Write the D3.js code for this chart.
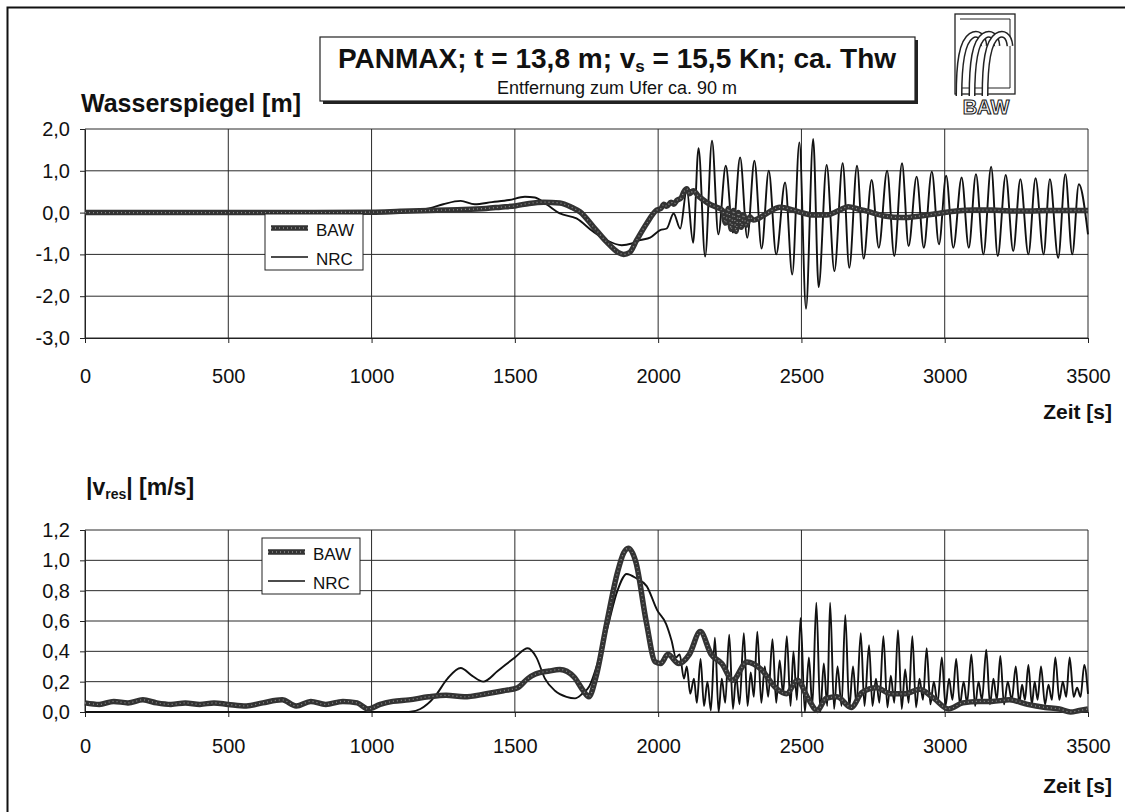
<!DOCTYPE html>
<html lang="de">
<head>
<meta charset="UTF-8">
<title>PANMAX - Wasserspiegel und vres</title>
<style>
  body { margin: 0; background: #fff; }
  svg { display: block; font-family: 'Liberation Sans', Arial, sans-serif; }
</style>
</head>
<body>
<svg width="1125" height="812"></svg>
<script src="https://d3js.org/d3.v7.min.js"></script>
<script>
// ---- data ----
const xTicks = [0, 500, 1000, 1500, 2000, 2500, 3000, 3500];
const wsTicks = [2, 1, 0, -1, -2, -3];
const vTicks = [0, 0.2, 0.4, 0.6, 0.8, 1.0, 1.2];

// Wasserspiegel [m], BAW
const wsBAW = [[0,0],[200,0],[400,0],[600,0],[800,0],[1000,0.01],[1100,0.03],[1200,0.05],[1300,0.07],[1400,0.1],[1450,0.13],[1500,0.16],[1550,0.22],[1600,0.25],[1657,0.23],[1700,0.12],[1727,0.02],[1774,-0.34],[1820,-0.7],[1860,-0.95],[1880,-1.0],[1900,-0.96],[1925,-0.66],[1960,-0.26],[1995,0.06],[2010,0.1],[2020,0.2],[2030,0.15],[2045,0.25],[2055,0.2],[2065,0.29],[2080,0.35],[2090,0.5],[2100,0.57],[2110,0.45],[2123,0.52],[2140,0.4],[2158,0.3],[2180,0.2],[2204,0.13],[2225,0.05],[2235,-0.25],[2245,0.1],[2255,-0.4],[2263,0.05],[2272,-0.45],[2280,0.0],[2290,-0.35],[2298,-0.05],[2308,-0.3],[2320,-0.1],[2332,-0.18],[2379,-0.02],[2425,0.13],[2472,0.06],[2500,0.0],[2542,-0.06],[2588,-0.06],[2630,0.05],[2663,0.14],[2700,0.08],[2725,0.04],[2790,-0.08],[2851,-0.12],[2915,-0.08],[2978,-0.02],[3040,0.04],[3100,0.06],[3165,0.06],[3230,0.04],[3292,0.04],[3360,0.05],[3430,0.05],[3500,0.05]];

// Wasserspiegel [m], NRC
const wsNRC = [[0,0],[500,0],[1000,0],[1100,0.03],[1200,0.1],[1250,0.2],[1311,0.28],[1360,0.2],[1420,0.25],[1480,0.3],[1535,0.38],[1570,0.36],[1610,0.2],[1657,-0.02],[1715,-0.14],[1774,-0.46],[1820,-0.66],[1873,-0.78],[1908,-0.74],[1937,-0.66],[1972,-0.6],[2007,-0.42],[2030,-0.38],[2054,-0.02],[2077,-0.38],[2100,0.55],[2122,-0.72],[2141,1.54],[2164,-1.05],[2188,1.72],[2210,-0.52],[2236,1.12],[2261,-0.48],[2286,1.32],[2311,-0.6],[2336,1.24],[2361,-0.86],[2386,1.0],[2412,-1.0],[2443,0.72],[2468,-1.48],[2493,1.68],[2516,-2.3],[2541,1.76],[2560,-1.78],[2588,1.14],[2615,-1.4],[2644,1.18],[2667,-1.32],[2694,1.12],[2717,-1.1],[2745,0.78],[2770,-0.84],[2799,1.0],[2824,-1.04],[2851,1.18],[2874,-0.8],[2902,0.86],[2927,-0.84],[2955,0.98],[2980,-0.76],[3005,0.88],[3030,-0.84],[3059,0.84],[3084,-0.84],[3109,0.92],[3135,-1.0],[3162,1.1],[3185,-1.04],[3213,0.9],[3239,-0.92],[3264,0.8],[3292,-1.0],[3317,0.82],[3345,-1.0],[3367,0.8],[3396,-1.08],[3421,0.92],[3445,-1.0],[3468,0.68],[3500,-0.52]];

// |v_res| [m/s], BAW
const vBAW = [[0,0.06],[50,0.05],[100,0.07],[150,0.06],[202,0.08],[250,0.06],[300,0.05],[350,0.06],[401,0.05],[450,0.06],[500,0.05],[563,0.04],[620,0.06],[688,0.08],[737,0.04],[788,0.07],[840,0.05],[900,0.07],[950,0.06],[987,0.02],[1030,0.05],[1074,0.07],[1130,0.08],[1199,0.1],[1260,0.11],[1323,0.1],[1400,0.12],[1460,0.14],[1510,0.16],[1545,0.22],[1572,0.25],[1620,0.27],[1657,0.28],[1707,0.23],[1739,0.14],[1758,0.1],[1783,0.23],[1821,0.59],[1858,0.92],[1880,1.05],[1896,1.08],[1922,0.99],[1959,0.59],[1990,0.33],[2009,0.32],[2034,0.38],[2072,0.32],[2109,0.38],[2147,0.53],[2185,0.38],[2222,0.32],[2260,0.21],[2310,0.33],[2360,0.28],[2410,0.16],[2448,0.12],[2486,0.21],[2523,0.09],[2555,0.01],[2586,0.09],[2624,0.1],[2674,0.03],[2712,0.13],[2762,0.16],[2812,0.12],[2862,0.12],[2912,0.15],[2962,0.09],[3013,0.02],[3063,0.06],[3120,0.07],[3164,0.07],[3226,0.08],[3289,0.05],[3351,0.03],[3400,0.02],[3439,0.0],[3470,0.01],[3500,0.02]];

// |v_res| [m/s], NRC
const vNRC = [[0,0],[500,0],[1000,0],[1130,0],[1170,0.02],[1220,0.1],[1265,0.22],[1311,0.29],[1350,0.24],[1390,0.2],[1440,0.27],[1500,0.36],[1545,0.42],[1575,0.36],[1605,0.22],[1640,0.14],[1680,0.1],[1710,0.09],[1735,0.12],[1760,0.17],[1790,0.33],[1821,0.54],[1858,0.8],[1890,0.91],[1925,0.88],[1960,0.83],[1997,0.67],[2028,0.58],[2047,0.47],[2062,0.36],[2075,0.38],[2090,0.22],[2100,0.3],[2112,0.12],[2125,0.22],[2135,0.06],[2148,0.35],[2160,0.04],[2172,0.2],[2184,0.01],[2198,0.49],[2211,0.0],[2222,0.22],[2234,0.06],[2248,0.51],[2261,0.02],[2272,0.24],[2284,0.05],[2299,0.52],[2312,0.04],[2323,0.26],[2334,0.1],[2346,0.53],[2360,0.06],[2372,0.3],[2384,0.1],[2399,0.48],[2412,0.06],[2424,0.34],[2436,0.12],[2449,0.5],[2462,0.04],[2472,0.4],[2484,0.08],[2497,0.62],[2512,0.0],[2526,0.36],[2538,0.04],[2552,0.72],[2566,0.0],[2578,0.32],[2590,0.04],[2600,0.72],[2614,0.02],[2626,0.3],[2640,0.04],[2653,0.64],[2667,0.03],[2680,0.3],[2692,0.05],[2707,0.52],[2720,0.04],[2736,0.44],[2748,0.04],[2760,0.22],[2772,0.06],[2786,0.5],[2800,0.03],[2812,0.24],[2824,0.06],[2837,0.54],[2850,0.02],[2862,0.28],[2874,0.06],[2887,0.5],[2900,0.03],[2912,0.22],[2924,0.08],[2937,0.42],[2950,0.05],[2962,0.2],[2975,0.06],[2990,0.36],[3003,0.04],[3015,0.22],[3027,0.08],[3040,0.35],[3053,0.05],[3066,0.2],[3078,0.06],[3093,0.38],[3106,0.04],[3118,0.2],[3130,0.08],[3145,0.41],[3158,0.05],[3170,0.22],[3182,0.08],[3194,0.37],[3207,0.05],[3220,0.2],[3234,0.08],[3248,0.3],[3260,0.06],[3270,0.18],[3280,0.08],[3292,0.31],[3304,0.05],[3314,0.2],[3324,0.08],[3336,0.3],[3350,0.05],[3362,0.18],[3374,0.08],[3386,0.36],[3400,0.08],[3412,0.2],[3424,0.1],[3436,0.36],[3450,0.1],[3462,0.16],[3474,0.1],[3487,0.31],[3500,0.12]];

const seriesNames = ["BAW", "NRC"];

// ---- drawing ----
const svg = d3.select("svg");
const de = d3.formatLocale({decimal: ",", thousands: ".", grouping: [3], currency: ["", " €"], minus: "-"});
const fmtY = de.format(".1f");

// scanned page frame
svg.append("path").attr("d", "M7.5,812 V7.5 H1125")
  .attr("fill", "none").attr("stroke", "#111").attr("stroke-width", 2);

// title box with shadow
svg.append("rect").attr("x", 323).attr("y", 40).attr("width", 595).attr("height", 64).attr("fill", "#222");
svg.append("rect").attr("x", 320).attr("y", 37).attr("width", 595).attr("height", 64)
  .attr("fill", "#fff").attr("stroke", "#222").attr("stroke-width", 1.2);
const title = svg.append("text").attr("x", 617).attr("y", 68).attr("text-anchor", "middle")
  .attr("font-size", 28).attr("font-weight", "bold").attr("fill", "#111");
title.append("tspan").text("PANMAX; t = 13,8 m; v");
title.append("tspan").attr("font-size", 17).attr("dy", 4).text("s");
title.append("tspan").attr("dy", -4).text(" = 15,5 Kn; ca. Thw");
svg.append("text").attr("x", 617).attr("y", 94).attr("text-anchor", "middle")
  .attr("font-size", 18).attr("fill", "#111").text("Entfernung zum Ufer ca. 90 m");

// BAW logo
const logo = svg.append("g");
logo.append("rect").attr("x", 955).attr("y", 14).attr("width", 60).attr("height", 80)
  .attr("fill", "#fff").attr("stroke", "#222").attr("stroke-width", 1.3);
logo.append("path").attr("d", "M960,19 H1010 V88 H960")
  .attr("fill", "none").attr("stroke", "#222").attr("stroke-width", 1);
[959, 972, 985].forEach(x0 => {
  const d = `M${x0},96 C${x0},62 ${x0 + 3},42 ${x0 + 12},36 C${x0 + 18},32 ${x0 + 24},35 ${x0 + 25},46`;
  logo.append("path").attr("d", d).attr("fill", "none").attr("stroke", "#222").attr("stroke-width", 7);
  logo.append("path").attr("d", d).attr("fill", "none").attr("stroke", "#fff").attr("stroke-width", 4);
});
logo.append("rect").attr("x", 957).attr("y", 96).attr("width", 58).attr("height", 20).attr("fill", "#fff");
logo.append("text").attr("x", 986).attr("y", 114).attr("text-anchor", "middle")
  .attr("font-size", 20).attr("font-weight", "bold").attr("fill", "#fff")
  .attr("stroke", "#222").attr("stroke-width", 1.1).text("BAW");

const x = d3.scaleLinear().domain([0, 3500]).range([85, 1088]);

function drawBAW(g, pathD) {
  g.append("path").attr("d", pathD).attr("fill", "none")
    .attr("stroke", "#333").attr("stroke-width", 5.5).attr("stroke-linejoin", "round");
  g.append("path").attr("d", pathD).attr("fill", "none")
    .attr("stroke", "#8c8c8c").attr("stroke-width", 1.3).attr("stroke-dasharray", "1,3");
}

function panel(cfg) {
  const y = d3.scaleLinear().domain(cfg.domain).range(cfg.range);
  const g = svg.append("g");
  const [yMin, yMax] = cfg.domain;

  // grid
  g.append("g").selectAll("line").data(cfg.yTicks).join("line")
    .attr("x1", x(0)).attr("x2", x(3500))
    .attr("y1", d => y(d)).attr("y2", d => y(d))
    .attr("stroke", "#2a2a2a").attr("stroke-width", 1);
  g.append("g").selectAll("line").data(xTicks).join("line")
    .attr("x1", d => x(d)).attr("x2", d => x(d))
    .attr("y1", y(yMin)).attr("y2", y(yMax))
    .attr("stroke", "#2a2a2a").attr("stroke-width", 1);

  // axes
  const ax = g.append("g").attr("transform", `translate(0,${y(yMin)})`)
    .call(d3.axisBottom(x).tickValues(xTicks).tickSize(5).tickSizeOuter(0)
      .tickPadding(cfg.xPad).tickFormat(d3.format("d")));
  const ay = g.append("g").attr("transform", `translate(${x(0)},0)`)
    .call(d3.axisLeft(y).tickValues(cfg.yTicks).tickSize(5).tickSizeOuter(0)
      .tickPadding(10).tickFormat(fmtY));
  [ax, ay].forEach(a => {
    a.selectAll("text").attr("font-size", 20).attr("fill", "#111")
      .style("font-family", "'Liberation Sans', Arial, sans-serif");
    a.selectAll("line, path").attr("stroke", "#222");
  });

  // series
  const line = d3.line().x(d => x(d[0])).y(d => y(d[1])).curve(d3.curveMonotoneX);
  g.append("path").attr("d", line(cfg.nrc)).attr("fill", "none")
    .attr("stroke", "#111").attr("stroke-width", 1.9).attr("stroke-linejoin", "round");
  drawBAW(g, line(cfg.baw));

  // legend
  const L = cfg.legend;
  const lg = g.append("g");
  lg.append("rect").attr("x", L.x).attr("y", L.y).attr("width", 98).attr("height", 56)
    .attr("fill", "#fff").attr("stroke", "#222").attr("stroke-width", 1);
  seriesNames.forEach((name, i) => {
    const ly = L.y + 14 + i * 29;
    const seg = `M${L.x + 6},${ly} H${L.x + 43}`;
    if (name === "BAW") drawBAW(lg, seg);
    else lg.append("path").attr("d", seg).attr("stroke", "#111").attr("stroke-width", 1.6);
    lg.append("text").attr("x", L.x + 51).attr("y", ly + 8).attr("font-size", 17)
      .attr("fill", "#111").text(name);
  });

  // axis title
  g.append("text").attr("x", 1112).attr("y", cfg.zeitY).attr("text-anchor", "end")
    .attr("font-size", 21).attr("font-weight", "bold").attr("fill", "#111").text("Zeit [s]");
}

// y-axis titles
svg.append("text").attr("x", 81).attr("y", 112).attr("font-size", 25).attr("font-weight", "bold")
  .attr("fill", "#111").text("Wasserspiegel [m]");
const vt = svg.append("text").attr("x", 86).attr("y", 495).attr("font-size", 23)
  .attr("font-weight", "bold").attr("fill", "#111");
vt.append("tspan").text("|v");
vt.append("tspan").attr("font-size", 14).attr("dy", 4).text("res");
vt.append("tspan").attr("dy", -4).text("| [m/s]");

panel({
  domain: [-3, 2], range: [338, 129], yTicks: wsTicks, xPad: 26,
  baw: wsBAW, nrc: wsNRC, legend: {x: 265, y: 214}, zeitY: 419
});
panel({
  domain: [0, 1.2], range: [712, 530], yTicks: vTicks, xPad: 22,
  baw: vBAW, nrc: vNRC, legend: {x: 262, y: 538}, zeitY: 793
});
</script>
</body>
</html>
